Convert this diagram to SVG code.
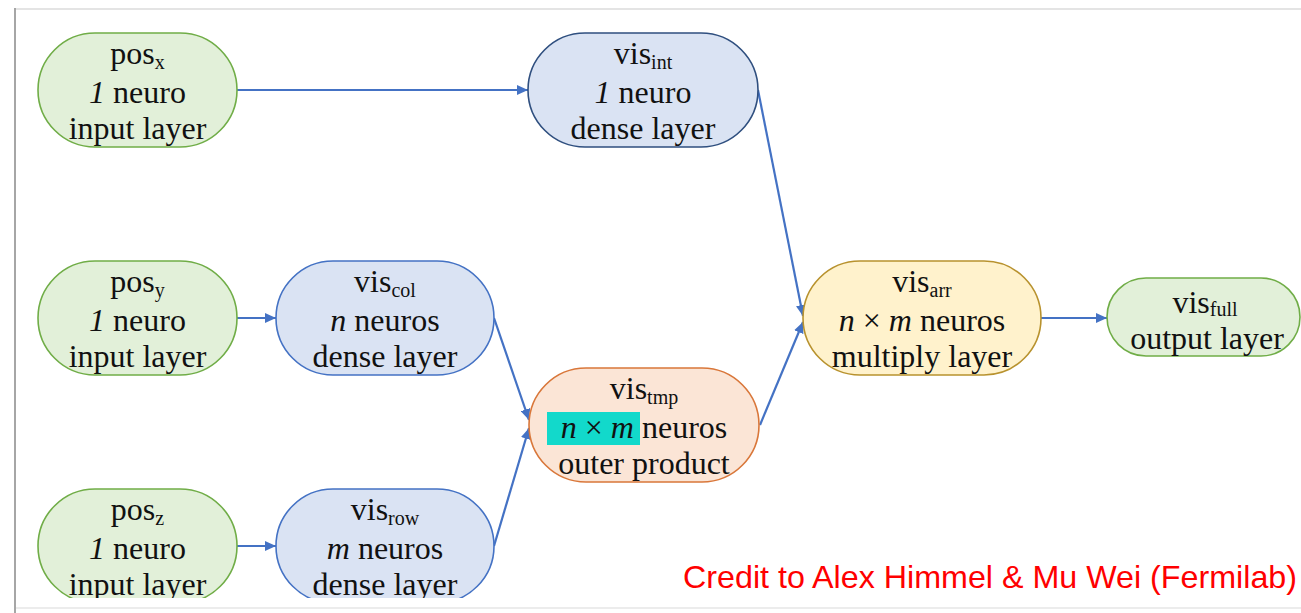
<svg xmlns="http://www.w3.org/2000/svg" width="1301" height="613" viewBox="0 0 1301 613">
<style>
.n rect{stroke-width:1.6}
.g rect{fill:#E2F0D9;stroke:#70AD47}
.b rect{fill:#DAE3F3;stroke:#4472C4}
.bd rect{fill:#DAE3F3;stroke:#2F4F7F}
.o rect{fill:#FBE5D6;stroke:#D9773A}
.y rect{fill:#FFF2CC;stroke:#B8922E}
text.t{font-family:"Liberation Serif","Times New Roman",serif;font-size:32px;fill:#111;text-anchor:middle}
.sub{font-size:20px}
.i{font-style:italic}
#connectors path{fill:none;stroke:#4472C4;stroke-width:2.2}
</style>
<defs>
<marker id="arr" markerUnits="userSpaceOnUse" markerWidth="12" markerHeight="10" refX="11" refY="5" orient="auto">
<path d="M0,0 L11,5 L0,10 z" fill="#4472C4"/>
</marker>
<clipPath id="clip"><rect x="16" y="10" width="1285" height="588"/></clipPath>
</defs>
<rect x="0" y="0" width="1301" height="613" fill="#fff"/>
<line x1="15" y1="9" x2="1301" y2="9" stroke="#e4e4e4" stroke-width="2"/>
<line x1="15" y1="608" x2="1301" y2="608" stroke="#ececec" stroke-width="2"/>
<line x1="15" y1="8" x2="15" y2="613" stroke="#a6a6a6" stroke-width="2"/>
<g clip-path="url(#clip)">
<g id="connectors">
<path d="M237,90 L528,90" marker-end="url(#arr)"/>
<path d="M758,90 L803,316" marker-end="url(#arr)"/>
<path d="M760,425 L803,322" marker-end="url(#arr)"/>
<path d="M1041,318 L1107,318" marker-end="url(#arr)"/>
<path d="M237,318 L276,318" marker-end="url(#arr)"/>
<path d="M237,546 L276,546" marker-end="url(#arr)"/>
<path d="M494,318 L529,420" marker-end="url(#arr)"/>
<path d="M494,546 L529,428" marker-end="url(#arr)"/>
</g>
<g id="pos_x" class="n g">
<rect x="38" y="33" width="199" height="114" rx="57"/>
<text class="t" x="137.5" y="64">pos<tspan class="sub" dy="5">x</tspan></text>
<text class="t" x="137.5" y="103"><tspan class="i">1</tspan> neuro</text>
<text class="t" x="137.5" y="139">input layer</text>
</g>
<g id="vis_int" class="n bd">
<rect x="528" y="33" width="230" height="114" rx="57"/>
<text class="t" x="643" y="64">vis<tspan class="sub" dy="5">int</tspan></text>
<text class="t" x="643" y="103"><tspan class="i">1</tspan> neuro</text>
<text class="t" x="643" y="139">dense layer</text>
</g>
<g id="pos_y" class="n g">
<rect x="38" y="261" width="199" height="114" rx="57"/>
<text class="t" x="137.5" y="292">pos<tspan class="sub" dy="5">y</tspan></text>
<text class="t" x="137.5" y="331"><tspan class="i">1</tspan> neuro</text>
<text class="t" x="137.5" y="367">input layer</text>
</g>
<g id="vis_col" class="n b">
<rect x="276" y="261" width="218" height="114" rx="57"/>
<text class="t" x="385" y="292">vis<tspan class="sub" dy="5">col</tspan></text>
<text class="t" x="385" y="331"><tspan class="i">n</tspan> neuros</text>
<text class="t" x="385" y="367">dense layer</text>
</g>
<g id="vis_arr" class="n y">
<rect x="803" y="261" width="238" height="114" rx="57"/>
<text class="t" x="922" y="292">vis<tspan class="sub" dy="5">arr</tspan></text>
<text class="t" x="922" y="331"><tspan class="i">n</tspan> × <tspan class="i">m</tspan> neuros</text>
<text class="t" x="922" y="367">multiply layer</text>
</g>
<g id="vis_full" class="n g">
<rect x="1107" y="278" width="193" height="78" rx="39"/>
<text class="t" x="1205" y="313">vis<tspan class="sub" dy="3">full</tspan></text>
<text class="t" x="1207" y="349">output layer</text>
</g>
<g id="vis_tmp" class="n o">
<rect x="529" y="368" width="230" height="114" rx="57"/>
<rect x="547" y="412" width="93" height="33" style="fill:#12D9CB;stroke:none"/>
<text class="t" x="644" y="399">vis<tspan class="sub" dy="5">tmp</tspan></text>
<text class="t" x="644" y="438"><tspan class="i">n</tspan> × <tspan class="i">m</tspan> neuros</text>
<text class="t" x="644" y="474">outer product</text>
</g>
<g id="pos_z" class="n g">
<rect x="38" y="489" width="199" height="114" rx="57"/>
<text class="t" x="137.5" y="520">pos<tspan class="sub" dy="5">z</tspan></text>
<text class="t" x="137.5" y="559"><tspan class="i">1</tspan> neuro</text>
<text class="t" x="137.5" y="595">input layer</text>
</g>
<g id="vis_row" class="n b">
<rect x="276" y="489" width="218" height="114" rx="57"/>
<text class="t" x="385" y="520">vis<tspan class="sub" dy="5">row</tspan></text>
<text class="t" x="385" y="559"><tspan class="i">m</tspan> neuros</text>
<text class="t" x="385" y="595">dense layer</text>
</g>
</g>
<text x="683" y="588" font-family="Liberation Sans, Arial, sans-serif" font-size="32" fill="#FF0000" textLength="614" lengthAdjust="spacingAndGlyphs">Credit to Alex Himmel &amp; Mu Wei (Fermilab)</text>
</svg>
